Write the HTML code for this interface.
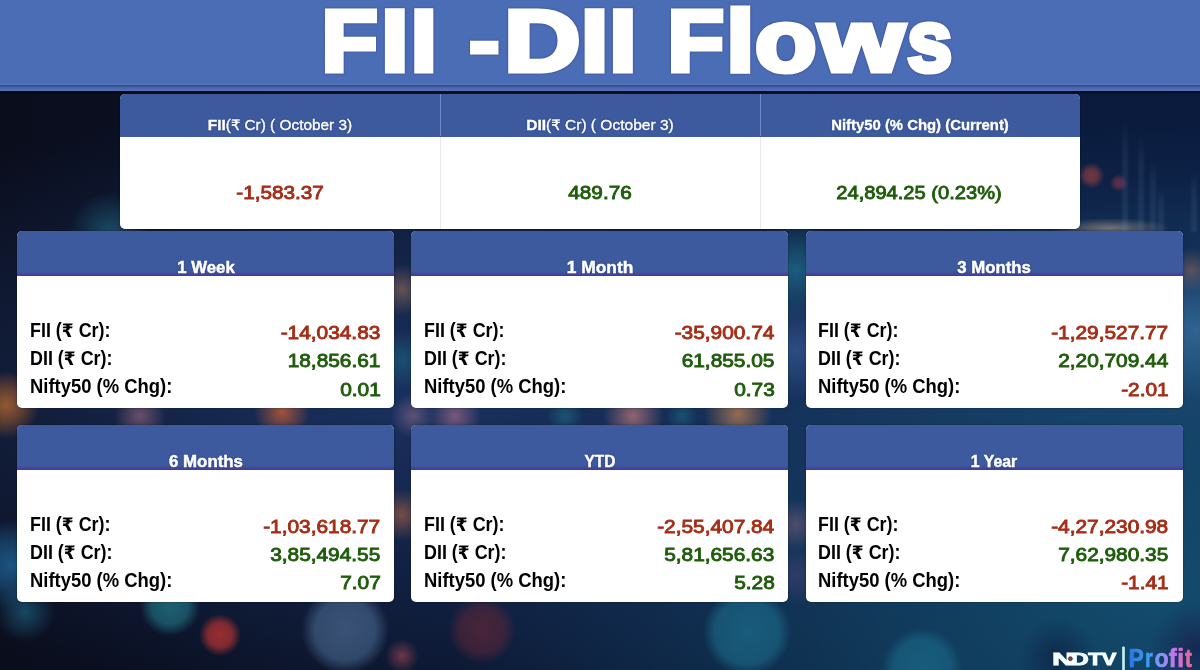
<!DOCTYPE html>
<html lang="en">
<head>
<meta charset="utf-8">
<title>FII -DII Flows</title>
<style>
html,body{margin:0;padding:0;background:#0b1426;}
body{width:1200px;height:670px;overflow:hidden;font-family:"Liberation Sans", "DejaVu Sans", sans-serif;}
#stage{position:relative;width:1200px;height:670px;overflow:hidden;background:#0c1830;}
.bg{position:absolute;left:0;top:0;width:1200px;height:670px;background:
radial-gradient(circle at 1091.5px 175.5px,rgba(175,70,65,.6) 0,rgba(175,70,65,.5) 6px,rgba(175,70,65,0) 13px),
radial-gradient(circle at 1118.7px 183px,rgba(170,60,75,.55) 0,rgba(170,60,75,.42) 4px,rgba(170,60,75,0) 9px),
radial-gradient(ellipse 60px 10px at 1110px 228px,rgba(190,170,150,.55),rgba(190,170,150,0)),
radial-gradient(circle at 110px 232px,rgba(30,95,120,.7) 0,rgba(30,95,120,0) 40px),
radial-gradient(circle at 6px 405px,rgba(170,100,50,.85) 0,rgba(150,85,45,.6) 16px,rgba(150,85,45,0) 34px),
radial-gradient(circle at 10px 565px,rgba(30,100,150,.8) 0,rgba(30,100,150,.5) 22px,rgba(30,100,150,0) 45px),
radial-gradient(circle at 140px 416px,rgba(125,90,115,.8) 0,rgba(125,90,115,0) 26px),
radial-gradient(circle at 282px 412px,rgba(185,90,55,.85) 0,rgba(185,90,55,0) 28px),
radial-gradient(circle at 402px 290px,rgba(150,110,90,.6) 0,rgba(150,110,90,0) 26px),
radial-gradient(circle at 402px 360px,rgba(30,100,130,.6) 0,rgba(30,100,130,0) 30px),
radial-gradient(circle at 413px 416px,rgba(110,90,125,.8) 0,rgba(110,90,125,0) 22px),
radial-gradient(circle at 455px 416px,rgba(135,95,130,.85) 0,rgba(135,95,130,0) 26px),
radial-gradient(circle at 402px 515px,rgba(150,90,70,.75) 0,rgba(150,90,70,0) 26px),
radial-gradient(circle at 565px 416px,rgba(30,110,130,.6) 0,rgba(30,110,130,0) 18px),
radial-gradient(circle at 633px 416px,rgba(165,110,115,.85) 0,rgba(165,110,115,0) 30px),
radial-gradient(circle at 682px 416px,rgba(30,110,130,.55) 0,rgba(30,110,130,0) 16px),
radial-gradient(circle at 738px 414px,rgba(170,118,80,.85) 0,rgba(170,118,80,0) 34px),
radial-gradient(circle at 796px 270px,rgba(30,110,140,.75) 0,rgba(30,110,140,0) 50px),
radial-gradient(circle at 796px 350px,rgba(60,95,160,.6) 0,rgba(60,95,160,0) 50px),
radial-gradient(circle at 796px 525px,rgba(120,95,120,.6) 0,rgba(120,95,120,0) 26px),
radial-gradient(circle at 796px 575px,rgba(75,65,120,.55) 0,rgba(75,65,120,0) 30px),
radial-gradient(circle at 1192px 270px,rgba(170,110,90,.45) 0,rgba(170,110,90,0) 22px),
radial-gradient(circle at 1195px 330px,rgba(70,130,180,.55) 0,rgba(70,130,180,0) 70px),
radial-gradient(circle at 170px 606px,rgba(35,120,135,.75) 0,rgba(35,120,135,.6) 18px,rgba(35,120,135,0) 30px),
radial-gradient(circle at 25px 612px,rgba(30,95,125,.7) 0,rgba(30,95,125,0) 30px),
radial-gradient(circle at 220px 635px,rgba(175,50,50,.85) 0,rgba(175,50,50,.7) 12px,rgba(175,50,50,0) 21px),
radial-gradient(circle at 345px 630px,rgba(85,120,160,.6) 0,rgba(85,120,160,.5) 30px,rgba(85,120,160,0) 44px),
radial-gradient(circle at 402px 656px,rgba(160,70,85,.65) 0,rgba(160,70,85,0) 17px),
radial-gradient(circle at 482px 630px,rgba(110,40,55,.6) 0,rgba(110,40,55,.45) 22px,rgba(110,40,55,0) 34px),
radial-gradient(circle at 747px 632px,rgba(30,120,150,.6) 0,rgba(30,120,150,.5) 32px,rgba(30,120,150,0) 44px),
radial-gradient(circle at 922px 668px,rgba(30,120,150,.55) 0,rgba(30,120,150,.45) 28px,rgba(30,120,150,0) 40px),
radial-gradient(circle at 1058px 658px,rgba(12,24,58,.6) 0,rgba(12,24,58,0) 40px),
radial-gradient(circle at 1195px 648px,rgba(24,26,74,.65) 0,rgba(24,26,74,0) 45px),
radial-gradient(ellipse 760px 300px at 420px 400px,rgba(30,58,112,.75),rgba(30,58,112,0)),
radial-gradient(ellipse 700px 420px at 1150px 600px,rgba(22,92,125,.75),rgba(22,92,125,0)),
radial-gradient(ellipse 500px 250px at 1200px 370px,rgba(36,80,130,.55),rgba(36,80,130,0)),
linear-gradient(90deg,#0a0d1c 0,#0a0f20 10%,#0c1731 40%,#0b1b3c 75%,#0a1b3e 100%);}
.titlebar{position:absolute;left:0;top:0;width:1200px;height:91px;background:#4a6db5;margin:0;}
.titlebar:after{content:"";position:absolute;left:0;right:0;top:84px;height:11px;background:linear-gradient(#4a6db5 0,#5576bb .5px,#2f4f8e 1px,#2f4f8e 2.2px,#4163a8 2.8px,#5a70b6 6.6px,#0a1020 7.2px,rgba(2,8,20,.75) 7.6px,rgba(2,8,20,0) 11px);}
.titlebar svg{position:absolute;left:0;top:0;}
.wrap{position:absolute;margin:0;padding:0;}
dl,dt,dd,h3{margin:0;padding:0;font-weight:400;}
.card{position:absolute;background:#fff;border-radius:5px;overflow:hidden;box-shadow:0 0 2px rgba(0,0,0,.45);}
.card .hd{position:absolute;left:0;top:0;right:0;background:#3d5a9e;box-sizing:border-box;}
.card .hd.ln{background:linear-gradient(#3d5a9e 0,#3d5a9e calc(100% - 5px),#42459b calc(100% - 1.5px),#3b3a93 100%);}
.t{position:absolute;white-space:nowrap;line-height:1;margin:0;padding:0;}
.ru{font-family:"DejaVu Sans",sans-serif;font-size:.95em;}
.b{font-weight:700;}
.hb{font-weight:700;-webkit-text-stroke:.45px #fff;}
.th{-webkit-text-stroke:.35px #fff;}
.w{color:#fff;text-shadow:0 0 2px rgba(10,20,70,.55);}
.lab{color:#000;font-weight:700;}
.neg{color:#a42e18;font-weight:400;-webkit-text-stroke:.85px #a42e18;}
.pos{color:#1f5c0c;font-weight:400;-webkit-text-stroke:.85px #1f5c0c;}
.bar{position:absolute;width:6px;background:linear-gradient(rgba(140,170,210,0),rgba(140,170,210,.09) 30%,rgba(140,170,210,.12));filter:blur(1px);}
.brand{position:absolute;left:1040px;top:630px;width:160px;height:40px;margin:0;}
.brand svg{display:block;}
.vline{position:absolute;top:0;width:1px;height:135px;background:linear-gradient(rgba(150,180,235,.55) 0,rgba(150,180,235,.55) 42.5px,rgba(60,40,90,.10) 42.5px,rgba(60,40,90,.10) 100%);}
</style>
</head>
<body>
<div id="stage">
<div class="bg"><i class="bar" style="left:1122px;top:118px;height:115px"></i><i class="bar" style="left:1138px;top:133px;height:100px"></i><i class="bar" style="left:1150px;top:160px;height:75px"></i><i class="bar" style="left:1158px;top:188px;height:45px"></i><i class="bar" style="left:1191px;top:172px;height:60px"></i></div>
<header class="titlebar">
<svg width="1200" height="91" viewBox="0 0 1200 91" role="heading" aria-level="1" aria-label="FII -DII Flows">
<g font-family="Liberation Sans, sans-serif" font-weight="700" font-size="87.3" fill="#fff" stroke="#fff" stroke-width="5.1" stroke-linejoin="miter" stroke-miterlimit="6" style="filter:drop-shadow(0 .6px 1.2px rgba(40,30,110,.55))">
<text y="70.55"><tspan x="321.43" textLength="56.25" lengthAdjust="spacingAndGlyphs">F</tspan><tspan x="381.31" textLength="27.17" lengthAdjust="spacingAndGlyphs">I</tspan><tspan x="410.66" textLength="26.08" lengthAdjust="spacingAndGlyphs">I</tspan></text>
<text y="70.55"><tspan x="469.70" dy="-4.85" font-size="71.4" textLength="29.07" lengthAdjust="spacingAndGlyphs">-</tspan><tspan x="504.33" dy="4.85" textLength="76.12" lengthAdjust="spacingAndGlyphs">D</tspan><tspan x="581.11" textLength="27.17" lengthAdjust="spacingAndGlyphs">I</tspan><tspan x="609.39" textLength="27.31" lengthAdjust="spacingAndGlyphs">I</tspan></text>
<text y="70.55"><tspan x="667.51" textLength="56.58" lengthAdjust="spacingAndGlyphs">F</tspan><tspan x="726.39" textLength="28.12" lengthAdjust="spacingAndGlyphs">l</tspan><tspan x="755.00" textLength="61.48" lengthAdjust="spacingAndGlyphs">o</tspan><tspan x="819.02" textLength="85.17" lengthAdjust="spacingAndGlyphs">w</tspan><tspan x="907.11" textLength="45.36" lengthAdjust="spacingAndGlyphs">s</tspan></text>
</g>
</svg>
</header>
<section class="wrap" style="left:120px;top:94px;width:960px;height:135px;">
<div class="card" style="left:0;top:0;width:960px;height:135px;"><div class="hd" style="height:42.5px"></div><i class="vline" style="left:319.5px"></i><i class="vline" style="left:640px"></i></div>
<h3 class="t w th" style="top:24px;font-size:14.8px;left:159.80px;transform:translateX(-50%) scaleX(1.0400)"><b>FII</b>(<span class="ru">₹</span> Cr) ( October 3)</h3>
<h3 class="t w th" style="top:24px;font-size:14.8px;left:479.80px;transform:translateX(-50%) scaleX(1.0500)"><b>DII</b>(<span class="ru">₹</span> Cr) ( October 3)</h3>
<h3 class="t w b th" style="top:24px;font-size:14.8px;left:800.20px;transform:translateX(-50%) scaleX(1.0050)">Nifty50 (% Chg) (Current)</h3>
<span class="t neg" style="top:90px;font-size:18px;left:159.50px;transform:translateX(-50%) scaleX(1.1500)">-1,583.37</span>
<span class="t pos" style="top:90px;font-size:18px;left:479.70px;transform:translateX(-50%) scaleX(1.1500)">489.76</span>
<span class="t pos" style="top:90px;font-size:18px;left:799.20px;transform:translateX(-50%) scaleX(1.1170)">24,894.25 (0.23%)</span>
</section>
<section class="wrap" style="left:17px;top:231px;width:378px;height:178px;">
<div class="card" style="left:0.2px;top:0.0px;width:377.3px;height:176.8px;"><div class="hd ln" style="height:44.8px"></div></div>
<h3 class="t w hb" style="top:28px;font-size:16.1px;left:189.00px;transform:translateX(-50%) scaleX(1.0420)">1 Week</h3>
<dl>
<dt class="t lab" style="top:90px;font-size:19.5px;left:13.00px;transform-origin:0 0;transform:scaleX(0.9180)">FII (<span class="ru">₹</span> Cr):</dt><dd class="t neg" style="top:94px;font-size:17.85px;right:14.40px;transform-origin:100% 0;transform:scaleX(1.1680)">-14,034.83</dd>
<dt class="t lab" style="top:118px;font-size:19.5px;left:13.00px;transform-origin:0 0;transform:scaleX(0.9180)">DII (<span class="ru">₹</span> Cr):</dt><dd class="t pos" style="top:122px;font-size:17.85px;right:14.40px;transform-origin:100% 0;transform:scaleX(1.1680)">18,856.61</dd>
<dt class="t lab" style="top:146px;font-size:19.5px;left:13.00px;transform-origin:0 0;transform:scaleX(0.9450)">Nifty50 (% Chg):</dt><dd class="t pos" style="top:151px;font-size:17.85px;right:14.40px;transform-origin:100% 0;transform:scaleX(1.1680)">0.01</dd>
</dl>
</section>
<section class="wrap" style="left:411px;top:231px;width:378px;height:178px;">
<div class="card" style="left:0.2px;top:0.0px;width:377.3px;height:176.8px;"><div class="hd ln" style="height:44.8px"></div></div>
<h3 class="t w hb" style="top:28px;font-size:16.1px;left:189.00px;transform:translateX(-50%) scaleX(1.0800)">1 Month</h3>
<dl>
<dt class="t lab" style="top:90px;font-size:19.5px;left:13.00px;transform-origin:0 0;transform:scaleX(0.9180)">FII (<span class="ru">₹</span> Cr):</dt><dd class="t neg" style="top:94px;font-size:17.85px;right:14.40px;transform-origin:100% 0;transform:scaleX(1.1680)">-35,900.74</dd>
<dt class="t lab" style="top:118px;font-size:19.5px;left:13.00px;transform-origin:0 0;transform:scaleX(0.9180)">DII (<span class="ru">₹</span> Cr):</dt><dd class="t pos" style="top:122px;font-size:17.85px;right:14.40px;transform-origin:100% 0;transform:scaleX(1.1680)">61,855.05</dd>
<dt class="t lab" style="top:146px;font-size:19.5px;left:13.00px;transform-origin:0 0;transform:scaleX(0.9450)">Nifty50 (% Chg):</dt><dd class="t pos" style="top:151px;font-size:17.85px;right:14.40px;transform-origin:100% 0;transform:scaleX(1.1680)">0.73</dd>
</dl>
</section>
<section class="wrap" style="left:805px;top:231px;width:378px;height:178px;">
<div class="card" style="left:0.7px;top:0.0px;width:377.3px;height:176.8px;"><div class="hd ln" style="height:44.8px"></div></div>
<h3 class="t w hb" style="top:28px;font-size:16.1px;left:189.00px;transform:translateX(-50%) scaleX(1.0440)">3 Months</h3>
<dl>
<dt class="t lab" style="top:90px;font-size:19.5px;left:13.00px;transform-origin:0 0;transform:scaleX(0.9180)">FII (<span class="ru">₹</span> Cr):</dt><dd class="t neg" style="top:94px;font-size:17.85px;right:14.40px;transform-origin:100% 0;transform:scaleX(1.1680)">-1,29,527.77</dd>
<dt class="t lab" style="top:118px;font-size:19.5px;left:13.00px;transform-origin:0 0;transform:scaleX(0.9180)">DII (<span class="ru">₹</span> Cr):</dt><dd class="t pos" style="top:122px;font-size:17.85px;right:14.40px;transform-origin:100% 0;transform:scaleX(1.1680)">2,20,709.44</dd>
<dt class="t lab" style="top:146px;font-size:19.5px;left:13.00px;transform-origin:0 0;transform:scaleX(0.9450)">Nifty50 (% Chg):</dt><dd class="t neg" style="top:151px;font-size:17.85px;right:14.40px;transform-origin:100% 0;transform:scaleX(1.1680)">-2.01</dd>
</dl>
</section>
<section class="wrap" style="left:17px;top:424px;width:378px;height:178px;">
<div class="card" style="left:0.2px;top:0.9px;width:377.3px;height:176.8px;"><div class="hd ln" style="height:44.8px"></div></div>
<h3 class="t w hb" style="top:29px;font-size:16.1px;left:189.00px;transform:translateX(-50%) scaleX(1.0480)">6 Months</h3>
<dl>
<dt class="t lab" style="top:91px;font-size:19.5px;left:13.00px;transform-origin:0 0;transform:scaleX(0.9180)">FII (<span class="ru">₹</span> Cr):</dt><dd class="t neg" style="top:95px;font-size:17.85px;right:14.40px;transform-origin:100% 0;transform:scaleX(1.1680)">-1,03,618.77</dd>
<dt class="t lab" style="top:119px;font-size:19.5px;left:13.00px;transform-origin:0 0;transform:scaleX(0.9180)">DII (<span class="ru">₹</span> Cr):</dt><dd class="t pos" style="top:123px;font-size:17.85px;right:14.40px;transform-origin:100% 0;transform:scaleX(1.1680)">3,85,494.55</dd>
<dt class="t lab" style="top:147px;font-size:19.5px;left:13.00px;transform-origin:0 0;transform:scaleX(0.9450)">Nifty50 (% Chg):</dt><dd class="t pos" style="top:151px;font-size:17.85px;right:14.40px;transform-origin:100% 0;transform:scaleX(1.1680)">7.07</dd>
</dl>
</section>
<section class="wrap" style="left:411px;top:424px;width:378px;height:178px;">
<div class="card" style="left:0.2px;top:0.9px;width:377.3px;height:176.8px;"><div class="hd ln" style="height:44.8px"></div></div>
<h3 class="t w hb" style="top:29px;font-size:16.1px;left:189.00px;transform:translateX(-50%) scaleX(0.9580)">YTD</h3>
<dl>
<dt class="t lab" style="top:91px;font-size:19.5px;left:13.00px;transform-origin:0 0;transform:scaleX(0.9180)">FII (<span class="ru">₹</span> Cr):</dt><dd class="t neg" style="top:95px;font-size:17.85px;right:14.40px;transform-origin:100% 0;transform:scaleX(1.1680)">-2,55,407.84</dd>
<dt class="t lab" style="top:119px;font-size:19.5px;left:13.00px;transform-origin:0 0;transform:scaleX(0.9180)">DII (<span class="ru">₹</span> Cr):</dt><dd class="t pos" style="top:123px;font-size:17.85px;right:14.40px;transform-origin:100% 0;transform:scaleX(1.1680)">5,81,656.63</dd>
<dt class="t lab" style="top:147px;font-size:19.5px;left:13.00px;transform-origin:0 0;transform:scaleX(0.9450)">Nifty50 (% Chg):</dt><dd class="t pos" style="top:151px;font-size:17.85px;right:14.40px;transform-origin:100% 0;transform:scaleX(1.1680)">5.28</dd>
</dl>
</section>
<section class="wrap" style="left:805px;top:424px;width:378px;height:178px;">
<div class="card" style="left:0.7px;top:0.9px;width:377.3px;height:176.8px;"><div class="hd ln" style="height:44.8px"></div></div>
<h3 class="t w hb" style="top:29px;font-size:16.1px;left:189.00px;transform:translateX(-50%) scaleX(0.9840)">1 Year</h3>
<dl>
<dt class="t lab" style="top:91px;font-size:19.5px;left:13.00px;transform-origin:0 0;transform:scaleX(0.9180)">FII (<span class="ru">₹</span> Cr):</dt><dd class="t neg" style="top:95px;font-size:17.85px;right:14.40px;transform-origin:100% 0;transform:scaleX(1.1680)">-4,27,230.98</dd>
<dt class="t lab" style="top:119px;font-size:19.5px;left:13.00px;transform-origin:0 0;transform:scaleX(0.9180)">DII (<span class="ru">₹</span> Cr):</dt><dd class="t pos" style="top:123px;font-size:17.85px;right:14.40px;transform-origin:100% 0;transform:scaleX(1.1680)">7,62,980.35</dd>
<dt class="t lab" style="top:147px;font-size:19.5px;left:13.00px;transform-origin:0 0;transform:scaleX(0.9450)">Nifty50 (% Chg):</dt><dd class="t neg" style="top:151px;font-size:17.85px;right:14.40px;transform-origin:100% 0;transform:scaleX(1.1680)">-1.41</dd>
</dl>
</section>
<footer class="brand">
<svg width="160" height="40" viewBox="1040 630 160 40" aria-label="NDTV Profit">
<defs><linearGradient id="pg" gradientUnits="userSpaceOnUse" x1="1129" y1="0" x2="1193" y2="0">
<stop offset="0" stop-color="#2878e6"/><stop offset=".3" stop-color="#3a9af2"/><stop offset=".5" stop-color="#8a92f8"/><stop offset=".72" stop-color="#c872f0"/><stop offset="1" stop-color="#e8668c"/></linearGradient></defs>
<g font-family="Liberation Sans, sans-serif" font-weight="700">
<text y="664.5" font-size="17.4" fill="#f4ffff" stroke="#f4ffff" stroke-width="1" stroke-linejoin="miter"><tspan x="1052.20" textLength="20.81" lengthAdjust="spacingAndGlyphs">N</tspan><tspan x="1070.97" textLength="17.66" lengthAdjust="spacingAndGlyphs">D</tspan><tspan x="1088.29" textLength="13.61" lengthAdjust="spacingAndGlyphs">T</tspan><tspan x="1101.68" textLength="14.54" lengthAdjust="spacingAndGlyphs">V</tspan></text>
<circle cx="1070.4" cy="658.7" r="1.9" fill="#b0381c" stroke="#2a1a30" stroke-width=".8"/>
<rect x="1122.2" y="646.4" width="2.6" height="24" rx="1.2" fill="#c4f4f4"/>
<text y="666.95" font-size="25.1" fill="url(#pg)" stroke="url(#pg)" stroke-width=".7"><tspan x="1128.49" textLength="15.28" lengthAdjust="spacingAndGlyphs">P</tspan><tspan x="1144.96" textLength="7.76" lengthAdjust="spacingAndGlyphs">r</tspan><tspan x="1154.42" textLength="14.16" lengthAdjust="spacingAndGlyphs">o</tspan><tspan x="1168.63" textLength="7.90" lengthAdjust="spacingAndGlyphs">f</tspan><tspan x="1177.35" textLength="6.73" lengthAdjust="spacingAndGlyphs">i</tspan><tspan x="1185.04" textLength="6.93" lengthAdjust="spacingAndGlyphs">t</tspan></text>
</g>
</svg>
</footer>
</div>
</body>
</html>
